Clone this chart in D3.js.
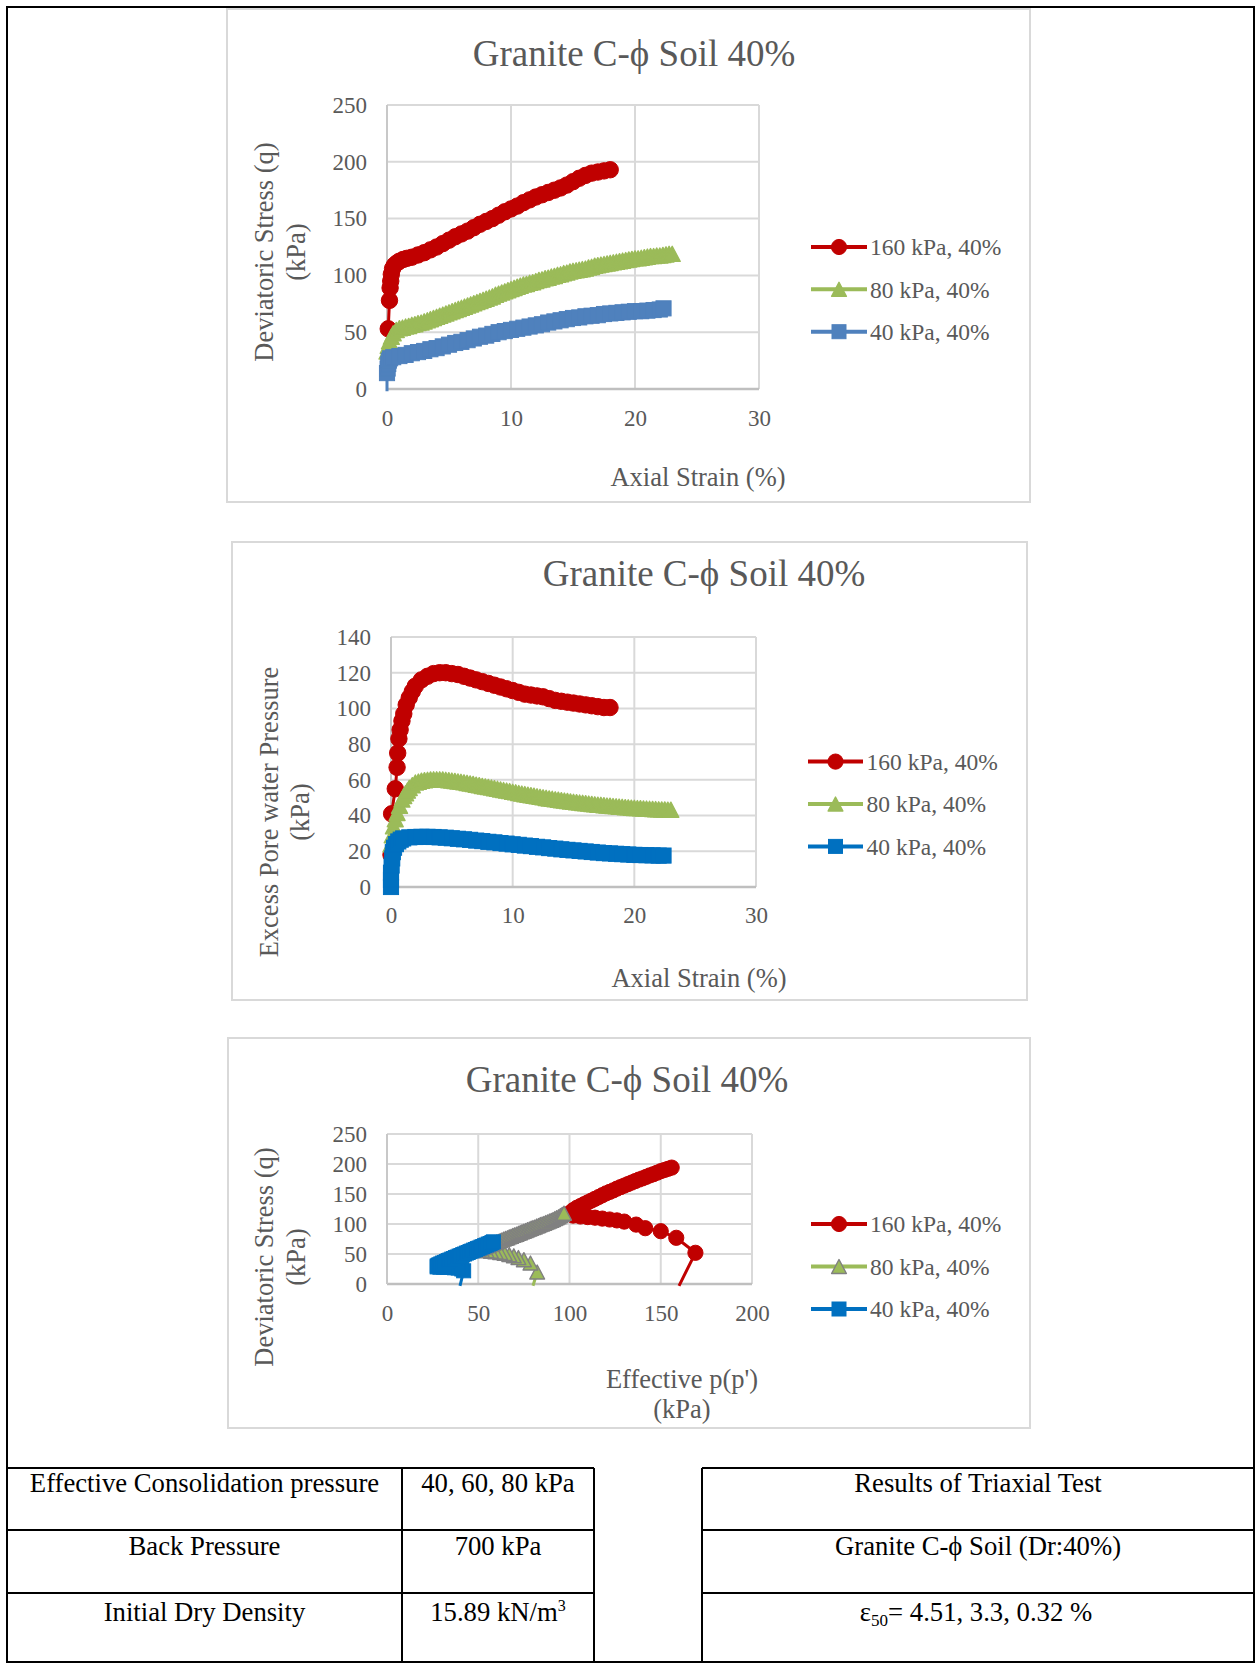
<!DOCTYPE html>
<html>
<head>
<meta charset="utf-8">
<script src="https://cdn.jsdelivr.net/npm/d3@7"></script>
<style>
  html, body { margin: 0; padding: 0; background: #ffffff; }
  svg { display: block; }
</style>
</head>
<body>
<svg id="page" width="1259" height="1663"></svg>
<script>
// ---------- tick values and series names ----------
const strainTicks = [0, 10, 20, 30];
const qTicks = [0, 50, 100, 150, 200, 250];
const poreTicks = [0, 20, 40, 60, 80, 100, 120, 140];
const pTicks = [0, 50, 100, 150, 200];
const seriesNames = ["160 kPa, 40%", "80 kPa, 40%", "40 kPa, 40%"];

// ---------- deviatoric stress q (kPa) vs axial strain (%) ----------
const q160Strain = [
  [0.1,53],[0.2,78],[0.25,89],[0.3,95],[0.35,101],[0.45,106],[0.6,109],[0.8,111],[1.0,112.5],
  [1.3,114],[1.6,115],[2.0,116],[2.5,118],[3.0,120],[3.5,122.5],[4.0,125],[4.5,128],[5.0,131],
  [5.5,134],[6.0,136.5],[6.5,139],[7.0,142],[7.5,145],[8.0,147.5],[8.5,150],[9.0,153],[9.5,156],
  [10.0,158.5],[10.5,161],[11.0,164],[11.5,166.5],[12.0,169],[12.5,171],[13.0,173],[13.5,175],
  [14.0,177],[14.5,179.5],[15.0,182.5],[15.5,185.5],[16.0,188],[16.5,190],[17.0,191],[17.5,192],[18.0,193]
];
const q80Strain = [
  [0,33],[0.1,38],[0.2,42],[0.35,46],[0.5,49],[0.75,52],[1.0,53.5],[1.25,54],[1.5,55],[1.75,55.5],
  [2.0,56.5],[2.25,57],[2.5,58],[2.75,58.5],[3.0,59.5],[3.25,60.5],[3.5,61.5],[3.75,62.5],[4.0,63.5],
  [4.25,64.5],[4.5,65.5],[4.75,66.5],[5.0,67.5],[5.25,68.5],[5.5,69.5],[5.75,70.5],[6.0,71.5],
  [6.25,72.5],[6.5,73.5],[6.75,74.5],[7.0,75.5],[7.25,76.5],[7.5,77.5],[7.75,78.5],[8.0,79.5],
  [8.25,80.5],[8.5,81.5],[8.75,83],[9.0,84],[9.25,85],[9.5,86],[9.75,87],[10.0,88],[10.25,89],
  [10.5,90],[10.75,91],[11.0,92],[11.25,92.5],[11.5,93.5],[11.75,94],[12.0,95],[12.25,96],
  [12.5,96.5],[12.75,97.5],[13.0,98],[13.25,99],[13.5,99.5],[13.75,100.5],[14.0,101],[14.25,102],
  [14.5,102.5],[14.75,103.5],[15.0,104],[15.25,104.5],[15.5,105],[15.75,105.5],[16.0,106],
  [16.25,107],[16.5,107.5],[16.75,108.5],[17.0,109],[17.25,109.5],[17.5,110],[17.75,110.5],
  [18.0,111],[18.25,111.5],[18.5,112],[18.75,112.5],[19.0,113],[19.25,113.5],[19.5,114],
  [19.75,114.5],[20.0,115],[20.25,115],[20.5,115.5],[20.75,116],[21.0,116.5],[21.25,117],
  [21.5,117],[21.75,117.5],[22.0,117.5],[22.25,118],[22.5,118.5],[22.75,119],[23.0,119]
];
const q40Strain = [
  [0,-2],[0,14],[0.05,18],[0.1,22],[0.15,25],[0.25,27],[0.5,28],[1.0,29],[1.5,30],[2.0,31.5],
  [2.5,32.5],[3.0,33.5],[3.5,35],[4.0,36],[4.5,37.5],[5.0,39],[5.5,40.5],[6.0,41.5],[6.5,43],
  [7.0,44.5],[7.5,46],[8.0,47],[8.5,48.5],[9.0,50],[9.5,51],[10.0,52],[10.5,53],[11.0,54],
  [11.5,55],[12.0,56],[12.5,57],[13.0,58.5],[13.5,59.5],[14.0,60.5],[14.5,61.5],[15.0,62.5],
  [15.5,63],[16.0,64],[16.5,64.5],[17.0,65],[17.5,66],[18.0,66.5],[18.5,67],[19.0,67.5],
  [19.5,68],[20.0,68.5],[20.5,68.5],[21.0,69],[21.5,69.5],[22.0,70],[22.3,71]
];

// ---------- excess pore water pressure u (kPa) vs axial strain (%) ----------
const u160Strain = [
  [0,18],[0.05,41],[0.35,55],[0.5,67],[0.55,75],[0.65,83],[0.75,88],[0.9,93],[1.05,97],[1.25,102],
  [1.5,106],[1.75,109.5],[2.0,112.5],[2.5,116],[3.0,118],[3.5,119.5],[4.0,120],[4.5,120],[5.0,119.5],
  [5.5,119],[6.0,118],[6.5,117],[7.0,116],[7.5,115],[8.0,114],[8.5,113],[9.0,112],[9.5,111],
  [10.0,110],[10.5,109],[11.0,108],[11.5,107.5],[12.0,107],[12.5,106.5],[13.0,105.5],[13.5,104.5],
  [14.0,104],[14.5,103.5],[15.0,103],[15.5,102.5],[16.0,102],[16.5,101.5],[17.0,101],[17.5,100.5],[18.0,100.5]
];
const u80Strain = [
  [0,24],[0.1,29],[0.2,34],[0.35,38],[0.5,41.5],[0.7,45.5],[0.9,49],[1.05,51],[1.2,52.5],[1.35,54],
  [1.5,55.5],[1.75,57],[2.0,58.5],[2.25,59],[2.5,59.5],[2.75,59.8],[3.0,60],[3.25,60.2],[3.5,60.3],
  [3.75,60.3],[4.0,60.3],[4.25,60.2],[4.5,60],[4.75,59.8],[5.0,59.6],[5.25,59.4],[5.5,59.1],
  [5.75,58.9],[6.0,58.6],[6.25,58.3],[6.5,58],[6.75,57.7],[7.0,57.3],[7.25,57],[7.5,56.6],
  [7.75,56.3],[8.0,56],[8.25,55.7],[8.5,55.3],[8.75,55],[9.0,54.6],[9.25,54.3],[9.5,54],
  [9.75,53.7],[10.0,53.3],[10.25,53],[10.5,52.6],[10.75,52.3],[11.0,52],[11.25,51.7],[11.5,51.4],
  [11.75,51.1],[12.0,50.8],[12.25,50.5],[12.5,50.2],[12.75,49.9],[13.0,49.6],[13.25,49.4],
  [13.5,49.1],[13.75,48.9],[14.0,48.6],[14.25,48.4],[14.5,48.2],[14.75,47.9],[15.0,47.7],
  [15.25,47.5],[15.5,47.3],[15.75,47.1],[16.0,46.9],[16.25,46.7],[16.5,46.5],[16.75,46.3],
  [17.0,46.1],[17.25,46],[17.5,45.8],[17.75,45.6],[18.0,45.5],[18.25,45.3],[18.5,45.2],[18.75,45],
  [19.0,44.9],[19.25,44.7],[19.5,44.6],[19.75,44.4],[20.0,44.3],[20.25,44.2],[20.5,44.1],
  [20.75,44],[21.0,43.9],[21.25,43.8],[21.5,43.7],[21.75,43.6],[22.0,43.5],[22.25,43.4],
  [22.5,43.4],[22.75,43.3],[23.0,43.3]
];
const u40Strain = [
  [0,0],[0,4],[0,8],[0.05,12],[0.1,16],[0.15,19.5],[0.25,22],[0.4,24],[0.6,25.5],[0.8,26.5],
  [1.0,27.2],[1.5,27.8],[2.0,28],[2.5,28.1],[3.0,28.1],[3.5,28],[4.0,27.8],[4.5,27.6],[5.0,27.3],
  [5.5,27],[6.0,26.7],[6.5,26.4],[7.0,26],[7.5,25.7],[8.0,25.3],[8.5,25],[9.0,24.6],[9.5,24.3],
  [10.0,23.9],[10.5,23.6],[11.0,23.2],[11.5,22.9],[12.0,22.5],[12.5,22.2],[13.0,21.8],[13.5,21.5],
  [14.0,21.1],[14.5,20.8],[15.0,20.5],[15.5,20.2],[16.0,19.9],[16.5,19.6],[17.0,19.3],[17.5,19],
  [18.0,18.8],[18.5,18.6],[19.0,18.4],[19.5,18.2],[20.0,18],[20.5,17.9],[21.0,17.8],[21.5,17.7],
  [22.0,17.6],[22.4,17.6]
];

// ---------- stress paths: q (kPa) vs effective p' (kPa) ----------
const path160 = [
  [160,-3],[169,52],[158.5,77],[150,88],[141.5,93],[136.5,99],[130,104],[126,106],[122,107.5],
  [118,109],[114,110.5],[110,111.5],[106,112.5],[102,114],[100,118],[102,123],[104,127],[106,130],
  [108,133],[110,136],[112,139],[114,142],[116,145],[118,148],[120,151],[122,153.5],[124,156],
  [126,159],[128,161.5],[130,164],[132,166.5],[134,169],[136,171.5],[138,174],[140,176],[142,178.5],
  [144,181],[146,183],[148,185.5],[150,188],[152,190],[154,192],[156,194]
];
const path80 = [
  [80,-3],[82.3,20],[78.6,35],[75,40.5],[72,44],[69.5,47],[67,49],[64.5,51],[62,52.5],[59.5,53.5],
  [57,54.5],[54.5,55.5],[52,56],[50,56.5],[49.5,57],[50,58],[51,59],[52,60.5],[53,61.5],[54,63],
  [55,64],[56,65],[57,66.5],[58,67.5],[59,69],[60,70],[61,71],[62,72.5],[63,73.5],[64,75],[65,76],
  [66,77],[67,78.5],[68,79.5],[69,81],[70,82],[71,83],[72,84.5],[73,85.5],[74,87],[75,88],[76,89],
  [77,90.5],[78,91.5],[79,93],[80,94],[81,95],[82,96.5],[83,97.5],[84,99],[85,100],[86,101],
  [87,102.5],[88,103.5],[89,105],[90,106],[91,107.5],[92,109],[93,110.5],[94,112],[95,114],
  [96,116],[97,118]
];
const path40 = [
  [40,-3],[42,22],[41,25],[39,26.5],[37,27],[35,27.5],[33,27.5],[31,28],[29,28],[27.5,28.5],
  [27.5,30],[28,31],[28.5,32],[29.5,33.5],[30.5,35],[31.5,36],[32.5,37.5],[33.5,39],[34.5,40],
  [35.5,41.5],[36.5,42.5],[37.5,44],[38.5,45],[39.5,46.5],[40.5,47.5],[41.5,49],[42.5,50],
  [43.5,51.5],[44.5,52.5],[45.5,54],[46.5,55],[47.5,56.5],[48.5,57.5],[49.5,59],[50.5,60],
  [51.5,61.5],[52.5,62.5],[53.5,64],[54.5,65],[55.5,66.5],[56.5,67.5],[57.5,69],[58.3,70.3]
];

// ---------- table text ----------
const testConditions = [
  ["Effective Consolidation pressure", "40, 60, 80 kPa"],
  ["Back Pressure", "700 kPa"],
  ["Initial Dry Density", "15.89 kN/m", "3"]
];
const testResults = ["Results of Triaxial Test", "Granite C-\u03D5 Soil (Dr:40%)", "= 4.51, 3.3, 0.32 %"];

// ---------- styling ----------
const FONT = "'Liberation Serif', 'Times New Roman', serif";
const GREY_TEXT = "#595959";
const RED = "#C00000", GREEN = "#9BBB59", BLUE_A = "#4F81BD", BLUE_B = "#0070C0";
const CHART_TITLE = "Granite C-\u03D5 Soil 40%";

const svg = d3.select("#page");
svg.append("rect").attr("width", 1259).attr("height", 1663).attr("fill", "#fff");

// marker shapes centred on (0,0); k scales the marker size
function addMarker(sel, shape, fill, stroke, k) {
  if (shape === "circle") {
    sel.append("circle").attr("r", 7.6 * k).attr("fill", fill).attr("stroke", stroke).attr("stroke-width", 1);
  } else if (shape === "square") {
    const h = 7 * k;
    sel.append("rect").attr("x", -h).attr("y", -h).attr("width", 2 * h).attr("height", 2 * h)
      .attr("fill", fill).attr("stroke", stroke).attr("stroke-width", 1);
  } else {
    const w = 7.4 * k, h = 7 * k;
    sel.append("path").attr("d", `M0,${-h}L${w},${h}L${-w},${h}Z`)
      .attr("fill", fill).attr("stroke", stroke).attr("stroke-width", 1.4).attr("stroke-linejoin", "round");
  }
}

function drawChart(cfg) {
  const [bx0, by0, bx1, by1] = cfg.box;
  const [px0, py0, px1, py1] = cfg.plot;
  const g = svg.append("g");

  g.append("rect").attr("x", bx0).attr("y", by0).attr("width", bx1 - bx0).attr("height", by1 - by0)
    .attr("fill", "#fff").attr("stroke", "#D9D9D9").attr("stroke-width", 2);

  const x = d3.scaleLinear().domain(cfg.xDomain).range([px0, px1]);
  const y = d3.scaleLinear().domain(cfg.yDomain).range([py1, py0]);

  // gridlines
  g.append("g").selectAll("line").data(cfg.yTicks).join("line")
    .attr("x1", px0).attr("x2", px1).attr("y1", d => y(d)).attr("y2", d => y(d))
    .attr("stroke", "#D9D9D9").attr("stroke-width", 2);
  g.append("g").selectAll("line").data(cfg.xTicks).join("line")
    .attr("x1", d => x(d)).attr("x2", d => x(d)).attr("y1", py0).attr("y2", py1)
    .attr("stroke", "#D9D9D9").attr("stroke-width", 2);

  // axis lines
  g.append("line").attr("x1", px0).attr("x2", px1).attr("y1", y(0)).attr("y2", y(0))
    .attr("stroke", "#BFBFBF").attr("stroke-width", 2.5);
  g.append("line").attr("x1", x(0)).attr("x2", x(0)).attr("y1", py0).attr("y2", py1)
    .attr("stroke", "#C8C8C8").attr("stroke-width", 2);

  // tick labels
  const yAxis = g.append("g").attr("transform", `translate(${px0},0)`)
    .call(d3.axisLeft(y).tickValues(cfg.yTicks).tickSize(0).tickPadding(20).tickFormat(d3.format("d")));
  const xAxis = g.append("g").attr("transform", `translate(0,${py1})`)
    .call(d3.axisBottom(x).tickValues(cfg.xTicks).tickSize(0).tickPadding(cfg.xPad).tickFormat(d3.format("d")));
  [yAxis, xAxis].forEach(a => {
    a.select(".domain").remove();
    a.selectAll("text").attr("font-family", FONT).attr("font-size", 23).attr("fill", GREY_TEXT);
  });

  // series: line then markers, in legend order
  const line = d3.line().x(d => x(d[0])).y(d => y(d[1]));
  cfg.series.forEach(s => {
    g.append("path").datum(s.data).attr("d", line).attr("fill", "none")
      .attr("stroke", s.color).attr("stroke-width", 3).attr("stroke-linejoin", "round");
    const inRange = s.data.filter(d => d[1] >= cfg.yDomain[0] && d[1] <= cfg.yDomain[1]);
    g.append("g").selectAll("g").data(inRange).join("g")
      .attr("transform", d => `translate(${x(d[0])},${y(d[1])})`)
      .each(function () { addMarker(d3.select(this), s.shape, s.color, s.outline || s.color, cfg.markerK); });
  });

  // chart title
  g.append("text").attr("x", cfg.titlePos[0]).attr("y", cfg.titlePos[1]).attr("text-anchor", "middle")
    .attr("font-family", FONT).attr("font-size", 37).attr("fill", GREY_TEXT).text(CHART_TITLE);

  // x axis title
  cfg.xTitle.forEach((t, i) => {
    g.append("text").attr("x", cfg.xTitlePos[0]).attr("y", cfg.xTitlePos[1] + i * 30)
      .attr("text-anchor", "middle").attr("font-family", FONT).attr("font-size", 26.5)
      .attr("fill", GREY_TEXT).text(t);
  });

  // y axis title (rotated, two lines)
  cfg.yTitle.forEach((t, i) => {
    g.append("text").attr("transform", `translate(${cfg.yTitleX[i]},${cfg.yTitleCY}) rotate(-90)`)
      .attr("text-anchor", "middle").attr("dy", "0.35em").attr("font-family", FONT)
      .attr("font-size", 26.5).attr("fill", GREY_TEXT).text(t);
  });

  // legend
  const L = cfg.legend;
  cfg.series.forEach((s, i) => {
    const ly = L.ys[i];
    const lg = g.append("g");
    lg.append("line").attr("x1", L.x0).attr("x2", L.x1).attr("y1", ly).attr("y2", ly)
      .attr("stroke", s.color).attr("stroke-width", 4);
    const mk = lg.append("g").attr("transform", `translate(${(L.x0 + L.x1) / 2},${ly})`);
    addMarker(mk, s.shape, s.color, s.outline || s.color, 1);
    lg.append("text").attr("x", L.tx).attr("y", ly).attr("dy", "0.35em")
      .attr("font-family", FONT).attr("font-size", 23.5).attr("fill", GREY_TEXT).text(s.name);
  });
}

// ---------- chart 1: deviatoric stress vs axial strain ----------
drawChart({
  box: [227, 9, 1030, 502], plot: [387, 105, 759, 389], markerK: 1.08,
  xDomain: [0, 30], xTicks: strainTicks, yDomain: [0, 250], yTicks: qTicks, xPad: 21,
  titlePos: [634, 66], xTitle: ["Axial Strain (%)"], xTitlePos: [698, 486],
  yTitle: ["Deviatoric Stress (q)", "(kPa)"], yTitleX: [264, 296], yTitleCY: 252,
  legend: { ys: [247, 289.3, 331.7], x0: 811, x1: 867, tx: 870 },
  series: [
    { name: seriesNames[0], data: q160Strain, color: RED, shape: "circle" },
    { name: seriesNames[1], data: q80Strain, color: GREEN, shape: "triangle" },
    { name: seriesNames[2], data: q40Strain, color: BLUE_A, shape: "square" }
  ]
});

// ---------- chart 2: excess pore water pressure vs axial strain ----------
drawChart({
  box: [232, 542, 1027, 1000], plot: [391, 637, 756, 887], markerK: 1.08,
  xDomain: [0, 30], xTicks: strainTicks, yDomain: [0, 140], yTicks: poreTicks, xPad: 20,
  titlePos: [704, 586], xTitle: ["Axial Strain (%)"], xTitlePos: [699, 987],
  yTitle: ["Excess Pore water Pressure", "(kPa)"], yTitleX: [269, 300], yTitleCY: 812,
  legend: { ys: [761.6, 804, 846.4], x0: 808, x1: 863, tx: 866.5 },
  series: [
    { name: seriesNames[0], data: u160Strain, color: RED, shape: "circle" },
    { name: seriesNames[1], data: u80Strain, color: GREEN, shape: "triangle" },
    { name: seriesNames[2], data: u40Strain, color: BLUE_B, shape: "square" }
  ]
});

// ---------- chart 3: stress paths ----------
drawChart({
  box: [228, 1038, 1030, 1428], plot: [387, 1134, 752, 1284], markerK: 1,
  xDomain: [0, 200], xTicks: pTicks, yDomain: [0, 250], yTicks: qTicks, xPad: 21,
  titlePos: [627, 1092], xTitle: ["Effective p(p')", "(kPa)"], xTitlePos: [682, 1388],
  yTitle: ["Deviatoric Stress (q)", "(kPa)"], yTitleX: [264, 296], yTitleCY: 1257,
  legend: { ys: [1224, 1266.5, 1309], x0: 811, x1: 867, tx: 870 },
  series: [
    { name: seriesNames[0], data: path160, color: RED, shape: "circle" },
    { name: seriesNames[1], data: path80, color: GREEN, shape: "triangle", outline: "#808080" },
    { name: seriesNames[2], data: path40, color: BLUE_B, shape: "square" }
  ]
});

// ---------- page frame and test-condition tables ----------
const frame = svg.append("g").attr("stroke", "#000").attr("stroke-width", 2).attr("fill", "none");
frame.append("rect").attr("x", 7).attr("y", 7).attr("width", 1247).attr("height", 1655);
const rowLines = [1468, 1530, 1593];
rowLines.forEach(yy => {
  frame.append("line").attr("x1", 7).attr("x2", 594).attr("y1", yy).attr("y2", yy);
  frame.append("line").attr("x1", 702).attr("x2", 1254).attr("y1", yy).attr("y2", yy);
});
[402, 594, 702].forEach(xx => {
  frame.append("line").attr("x1", xx).attr("x2", xx).attr("y1", 1468).attr("y2", 1662);
});

const baselines = [1492, 1555, 1621];
const tbl = svg.append("g").attr("font-family", FONT).attr("font-size", 26.7).attr("fill", "#000")
  .attr("text-anchor", "middle");
testConditions.forEach((row, i) => {
  tbl.append("text").attr("x", 204.5).attr("y", baselines[i]).text(row[0]);
  const t = tbl.append("text").attr("x", 498).attr("y", baselines[i]);
  t.append("tspan").text(row[1]);
  if (row[2]) t.append("tspan").attr("dy", -10).attr("font-size", 16).text(row[2]);
});
tbl.append("text").attr("x", 978).attr("y", baselines[0]).text(testResults[0]);
tbl.append("text").attr("x", 978).attr("y", baselines[1]).text(testResults[1]);
const eps = tbl.append("text").attr("x", 976).attr("y", baselines[2]);
eps.append("tspan").text("\u03B5");
eps.append("tspan").attr("dy", 5).attr("font-size", 17).text("50");
eps.append("tspan").attr("dy", -5).text(testResults[2]);
</script>
</body>
</html>
